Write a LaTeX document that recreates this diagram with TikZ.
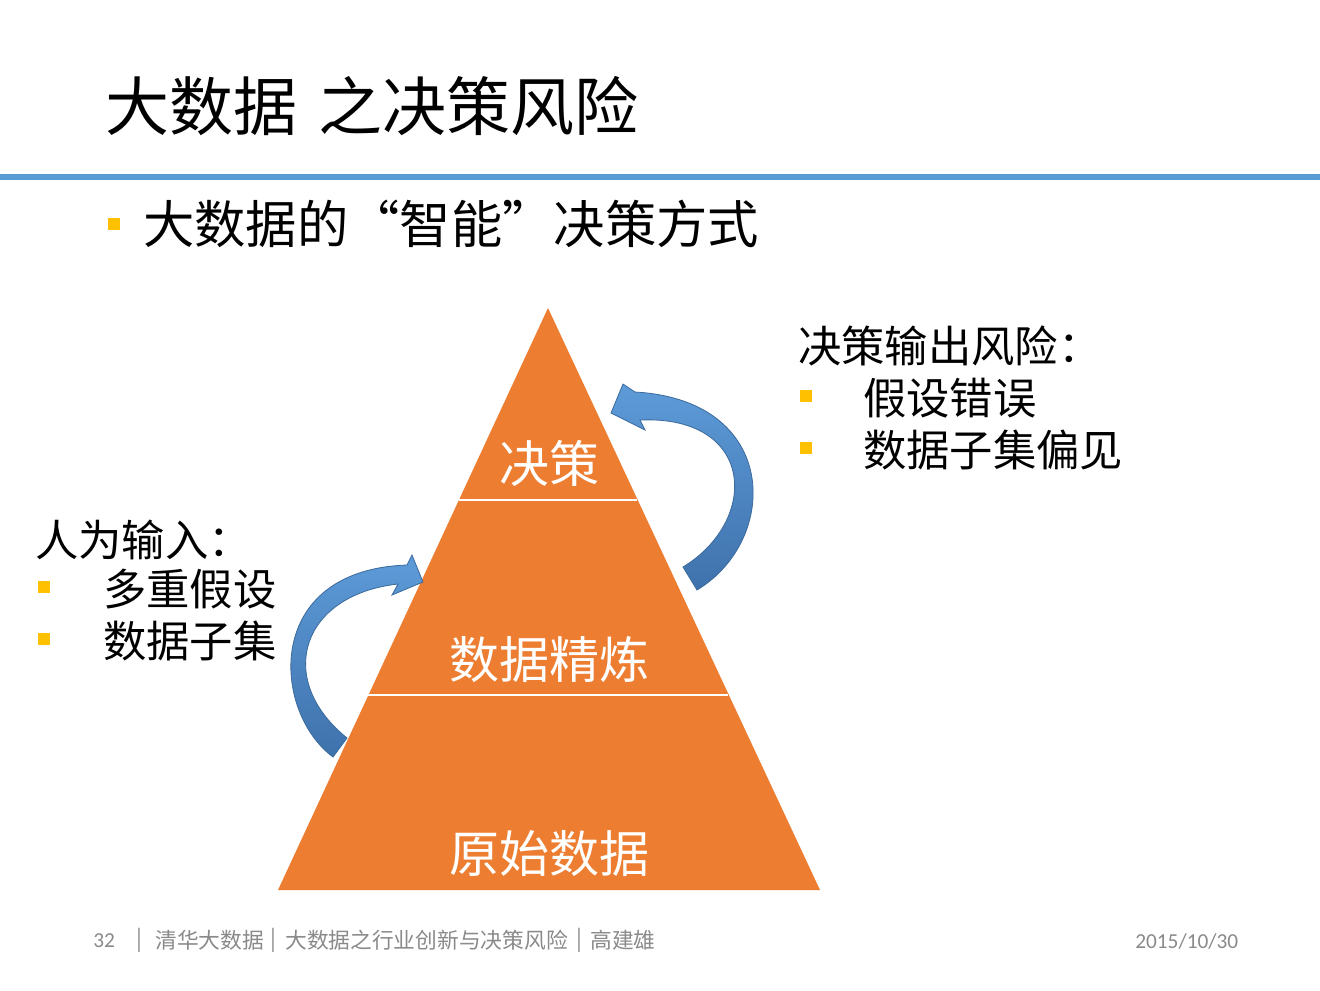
\documentclass[tikz,border=0pt]{standalone}
\usepackage{fontspec}
\setmainfont{Noto Sans CJK SC}
\newfontfamily\cjk{Noto Sans CJK SC}
\newfontfamily\lat{Carlito}
\definecolor{lineblue}{HTML}{5B9BD5}
\definecolor{pyrorange}{HTML}{ED7D31}
\definecolor{bulletgold}{HTML}{FFC000}
\definecolor{arrowtop}{HTML}{5D9BD8}
\definecolor{arrowbot}{HTML}{3F72AC}
\definecolor{arrowedge}{HTML}{3B6A9C}
\definecolor{footgray}{HTML}{8A8A8A}
\tikzset{
  txt/.style={inner sep=0pt, anchor=west, text=black},
  pyrlabel/.style={inner sep=0pt, text=white, font=\cjk\fontsize{37.5pt}{40pt}\selectfont},
  sidetxt/.style={txt, font=\cjk\fontsize{32.5pt}{36pt}\selectfont},
  bulletsq/.style={fill=bulletgold, draw=none, minimum size=9pt, inner sep=0pt},
  curvearrow/.style={top color=arrowtop, bottom color=arrowbot, draw=arrowedge, line width=0.6pt},
  sepline/.style={white, line width=2.2pt},
  foot/.style={inner sep=0pt, anchor=west, text=footgray, font=\cjk\fontsize{16.3pt}{18pt}\selectfont}
}
\begin{document}
\begin{tikzpicture}[x=0.75pt,y=-0.75pt]
\useasboundingbox (0,0) rectangle (1320,990);
\fill[white] (0,0) rectangle (1320,990);
% title
\node[txt, font=\cjk\fontsize{48pt}{50pt}\selectfont] (title) at (105,106) {大数据\hspace{16pt}之决策风险};
\draw[lineblue, line width=4.5pt] (0,177) -- (1320,177);
% main bullet
\node[bulletsq] (b0) at (114,224) {};
\node[txt, font=\cjk\fontsize{38.5pt}{42pt}\selectfont] (sub) at (143,224) {大数据的“智能”决策方式};
% pyramid
\coordinate (apex) at (548,308);
\coordinate (bl) at (278,890);
\coordinate (br) at (820,890);
\fill[pyrorange] (apex) -- (br) -- (bl) -- cycle;
\coordinate (s1l) at (459,500);
\coordinate (s1r) at (637,500);
\coordinate (s2l) at (368,695);
\coordinate (s2r) at (728,695);
\draw[sepline] (s1l) -- (s1r);
\draw[sepline] (s2l) -- (s2r);
\node[pyrlabel] (p1) at (549,463) {决策};
\node[pyrlabel] (p2) at (549,659) {数据精炼};
\node[pyrlabel] (p3) at (549,854) {原始数据};
% left curved arrow
\path[curvearrow] (333,757) .. controls (272,712) and (262,570) .. (407,565)
  -- (412,555) -- (423,582) -- (392,595) -- (398,584)
  .. controls (300,595) and (275,680) .. (347,738) -- cycle;
% right curved arrow
\path[curvearrow] (697,590) .. controls (780,540) and (780,400) .. (635,392)
  -- (623,384) -- (611,413) -- (645,430) -- (640,420)
  .. controls (755,415) and (760,520) .. (683,567) -- cycle;
% left text
\node[sidetxt] (lh) at (35,540) {人为输入：};
\node[bulletsq] (lb1) at (44,587) {};
\node[sidetxt] (l1) at (103,589) {多重假设};
\node[bulletsq] (lb2) at (44,639) {};
\node[sidetxt] (l2) at (103,641) {数据子集};
% right text
\node[sidetxt] (rh) at (798,346) {决策输出风险：};
\node[bulletsq] (rb1) at (806,396) {};
\node[sidetxt] (r1) at (863,398) {假设错误};
\node[bulletsq] (rb2) at (806,448) {};
\node[sidetxt] (r2) at (863,450) {数据子集偏见};
% footer
\node[foot, font=\lat\fontsize{16pt}{18pt}\selectfont] (pg) at (93,941) {32};
\node[foot] (f1) at (136,940) {|};
\node[foot] (f2) at (155,940) {清华大数据};
\node[foot] (f3) at (270,940) {|};
\node[foot] (f4) at (285,940) {大数据之行业创新与决策风险};
\node[foot] (f5) at (576,940) {|};
\node[foot] (f6) at (590,940) {高建雄};
\node[foot, font=\lat\fontsize{16pt}{18pt}\selectfont] (dt) at (1135,942) {2015/10/30};
\end{tikzpicture}
\end{document}
